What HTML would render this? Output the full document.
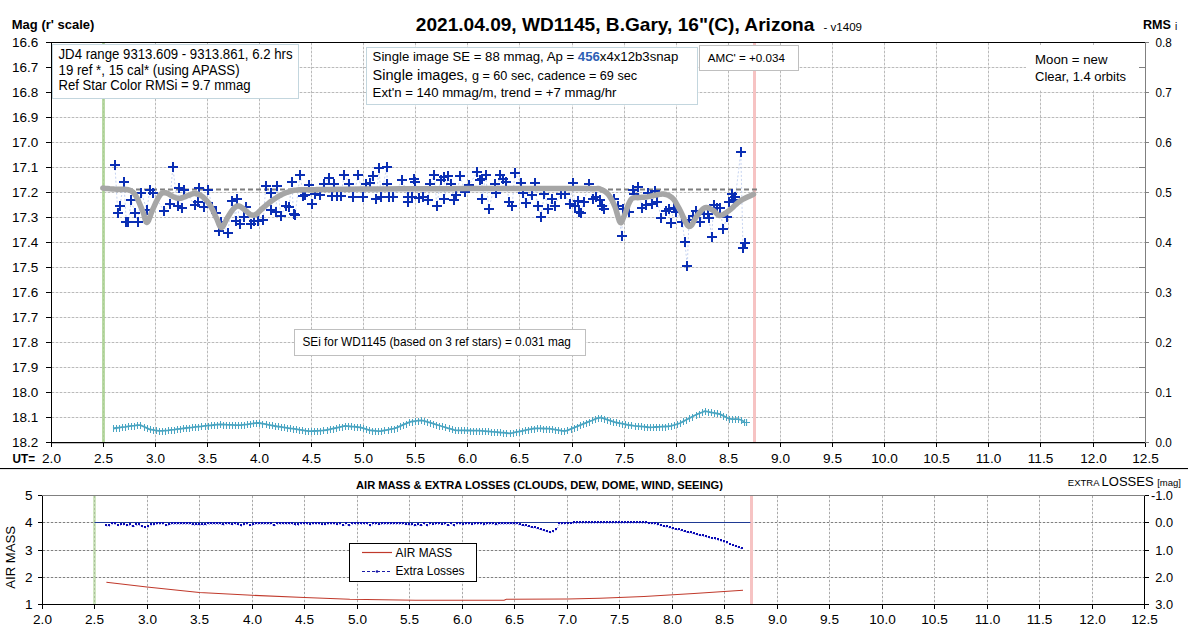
<!DOCTYPE html><html><head><meta charset="utf-8"><style>html,body{margin:0;padding:0;background:#fff;overflow:hidden}svg{display:block}text{font-family:"Liberation Sans",sans-serif}</style></head><body>
<svg width="1188" height="633" viewBox="0 0 1188 633" shape-rendering="auto">
<rect x="0" y="0" width="1188" height="633" fill="#fff"/>
<path d="M103.5,43V442M155.5,43V442M207.5,43V442M259.5,43V442M311.5,43V442M363.5,43V442M415.5,43V442M467.5,43V442M519.5,43V442M572.5,43V442M624.5,43V442M676.5,43V442M728.5,43V442M780.5,43V442M832.5,43V442M884.5,43V442M936.5,43V442M988.5,43V442M1040.5,43V442M1093.5,43V442M52,67.5H1145M52,92.5H1145M52,117.5H1145M52,142.5H1145M52,167.5H1145M52,192.5H1145M52,217.5H1145M52,242.5H1145M52,267.5H1145M52,292.5H1145M52,317.5H1145M52,342.5H1145M52,367.5H1145M52,392.5H1145M52,417.5H1145" stroke="#e8e8e8" stroke-width="1" fill="none"/>
<path d="M103.5,43V442M155.5,43V442M207.5,43V442M259.5,43V442M311.5,43V442M363.5,43V442M415.5,43V442M467.5,43V442M519.5,43V442M572.5,43V442M624.5,43V442M676.5,43V442M728.5,43V442M780.5,43V442M832.5,43V442M884.5,43V442M936.5,43V442M988.5,43V442M1040.5,43V442M1093.5,43V442M52,67.5H1145M52,92.5H1145M52,117.5H1145M52,142.5H1145M52,167.5H1145M52,192.5H1145M52,217.5H1145M52,242.5H1145M52,267.5H1145M52,292.5H1145M52,317.5H1145M52,342.5H1145M52,367.5H1145M52,392.5H1145M52,417.5H1145" stroke="#bababa" stroke-width="1" stroke-dasharray="2,2" fill="none"/>
<rect x="102" y="42" width="3" height="400" fill="#a9d18e" fill-opacity="0.8"/>
<rect x="753" y="42" width="3" height="400" fill="#f6c3c3"/>
<path d="M114.9,164.7L117.8,212.6L119.9,205.5L123.9,182.0L126.3,221.8L128.4,221.8L131.3,200.5L134.9,212.6L137.7,221.8L141.3,192.7L146.9,209.7L149.8,189.8L153.3,193.4L164.0,211.0L169.7,204.0L172.8,166.8L177.5,205.5L179.0,187.7L181.8,207.6L183.9,189.8L194.6,204.8L198.2,202.4L198.8,188.4L204.5,207.4L208.3,190.3L212.0,206.8L215.9,213.1L219.0,230.8L220.9,222.0L227.9,232.7L231.7,201.1L235.5,220.7L236.7,198.6L239.9,223.8L243.7,216.9L245.6,206.8L250.6,224.5L254.4,221.3L258.2,220.7L263.3,220.0L265.8,185.9L270.9,192.9L270.9,210.0L275.9,211.8L277.2,185.9L281.0,215.6L286.0,205.5L289.2,206.8L291.7,181.5L293.6,214.4L295.1,215.1L300.1,174.7L303.3,196.1L305.2,194.9L309.0,184.8L312.1,203.7L315.3,194.2L320.3,194.9L324.1,183.5L328.6,178.4L331.7,196.1L333.6,183.5L337.4,196.1L340.6,195.5L344.4,174.7L349.4,183.5L353.2,196.8L358.3,175.3L363.3,196.8L365.9,183.5L369.6,182.9L372.8,175.9L376.0,199.3L379.1,168.3L381.0,197.4L386.7,167.1L387.3,184.1L388.6,197.4L393.2,197.4L402.1,179.7L407.8,196.8L407.8,201.8L411.5,196.8L414.1,179.1L415.3,182.2L419.1,198.0L422.9,196.8L428.0,199.9L430.5,183.5L434.3,174.7L436.8,205.6L440.6,180.3L444.4,177.2L444.4,198.7L448.2,175.9L450.7,183.5L453.9,199.9L456.4,194.9L460.2,176.5L465.3,192.4L469.1,184.8L477.3,172.1L479.8,179.7L481.9,179.1L482.3,198.7L485.7,174.7L488.8,208.8L495.2,183.5L496.4,193.0L500.2,175.3L503.4,179.1L506.5,181.6L509.1,202.5L512.2,205.6L514.8,173.4L521.1,182.9L523.0,193.0L526.1,203.1L531.8,194.9L535.0,182.9L537.5,205.6L540.7,217.0L544.5,193.6L548.3,208.8L552.1,199.3L554.6,205.6L560.9,193.6L564.7,194.2L569.8,203.7L572.9,182.9L574.8,205.6L578.0,200.6L578.6,211.9L580.7,212.6L583.8,202.5L588.9,183.5L592.7,199.3L596.5,197.4L599.7,199.9L601.5,205.6L604.1,209.4L614.2,198.7L618.0,205.6L621.6,235.5L623.0,209.4L628.7,212.0L633.2,190.5L634.4,193.6L638.2,187.3L642.0,207.5L645.8,205.0L648.3,193.0L652.1,204.4L654.6,191.1L657.2,201.8L661.4,217.8L666.0,210.7L668.6,209.4L671.0,222.8L673.8,208.4L676.2,212.2L682.3,221.7L684.8,241.8L687.3,266.4L689.0,219.8L692.7,216.0L696.5,211.3L700.3,221.7L704.1,214.1L707.9,214.1L708.9,217.9L711.7,236.9L713.6,204.6L717.4,207.5L720.2,208.4L723.1,229.3L726.9,217.0L728.8,201.8L732.1,194.2L733.5,199.9L735.4,197.1L740.8,152.2L743.0,248.4L745.2,242.9" stroke="#b8c8ec" stroke-width="0.8" stroke-dasharray="2,2" fill="none"/>
<path d="M113.0,428.5L116.0,428.0L119.1,427.6L122.1,427.2L125.2,426.8L128.2,426.3L131.3,425.9L134.4,425.6L137.4,425.2L140.5,425.1L143.5,426.5L146.6,427.9L149.6,429.3L152.7,429.9L155.7,430.4L158.8,430.9L161.8,430.9L164.9,430.6L167.9,430.3L171.0,429.9L174.0,429.6L177.1,429.2L180.1,428.8L183.2,428.4L186.2,428.0L189.3,427.6L192.3,427.3L195.4,426.9L198.4,426.6L201.5,426.3L204.5,425.9L207.6,425.6L210.6,425.3L213.7,425.0L216.7,424.7L219.8,424.4L222.8,424.5L225.9,424.7L228.9,424.8L232.0,424.9L235.0,425.1L238.1,425.2L241.1,425.1L244.2,424.7L247.2,424.3L250.3,423.8L253.3,423.4L256.4,422.9L259.4,423.0L262.5,423.6L265.5,424.2L268.6,424.8L271.6,425.4L274.7,426.0L277.7,426.5L280.8,426.9L283.8,427.4L286.9,427.8L289.9,428.3L293.0,428.7L296.0,429.2L299.1,429.7L302.1,430.1L305.2,430.6L308.2,431.0L311.3,431.2L314.3,431.0L317.4,430.8L320.4,430.6L323.5,430.4L326.5,430.0L329.6,429.3L332.6,428.6L335.7,428.0L338.7,427.3L341.8,426.6L344.8,425.9L347.9,426.2L350.9,426.5L354.0,426.7L357.0,427.0L360.1,427.3L363.1,428.2L366.2,429.1L369.2,430.1L372.3,430.5L375.3,430.8L378.4,431.1L381.4,431.0L384.5,430.4L387.5,429.8L390.6,429.2L393.6,428.6L396.7,427.6L399.7,426.3L402.8,424.9L405.8,423.6L408.9,422.3L411.9,421.5L415.0,421.1L418.0,420.7L421.1,420.3L424.1,420.8L427.2,421.8L430.2,422.7L433.3,423.7L436.3,424.6L439.4,425.5L442.4,426.5L445.5,427.4L448.5,428.3L451.6,429.2L454.6,430.2L457.7,430.3L460.7,430.4L463.8,430.4L466.8,430.5L469.9,430.5L472.9,430.6L476.0,430.6L479.0,430.7L482.1,430.9L485.1,431.1L488.2,431.4L491.2,431.7L494.3,431.9L497.3,432.2L500.4,432.5L503.4,432.7L506.5,433.0L509.5,433.3L512.6,432.8L515.6,432.2L518.7,431.6L521.7,431.0L524.8,430.3L527.8,429.7L530.9,429.1L533.9,428.5L537.0,428.4L540.0,428.4L543.1,428.5L546.1,428.6L549.2,428.7L552.2,429.1L555.3,429.6L558.3,430.1L561.4,430.7L564.4,431.2L567.5,430.3L570.5,429.1L573.6,427.9L576.6,426.6L579.7,425.4L582.7,424.2L585.8,422.9L588.8,421.7L591.9,420.5L594.9,419.2L598.0,418.0L601.0,417.5L604.1,418.6L607.1,419.6L610.1,420.6L613.2,421.6L616.2,422.5L619.3,423.1L622.3,423.7L625.4,424.3L628.4,425.0L631.5,425.4L634.5,425.8L637.6,426.1L640.6,426.4L643.7,426.7L646.7,427.0L649.8,427.3L652.8,427.2L655.9,427.0L658.9,426.9L662.0,426.7L665.0,426.5L668.1,426.4L671.1,425.9L674.2,425.0L677.2,424.1L680.3,423.0L683.3,421.4L686.4,419.8L689.4,418.2L692.5,416.5L695.5,415.0L698.6,413.7L701.6,412.5L704.7,411.2L707.7,411.6L710.8,412.3L713.8,412.9L716.9,413.5L719.9,414.1L723.0,415.6L726.0,417.2L729.1,418.7L732.1,419.2L735.2,419.2L738.2,419.2L741.3,420.0L744.3,421.8" stroke="#4aa5c2" stroke-width="1.8" fill="none"/>
<path d="M113.5,425.0v7M116.5,425.0v7M119.5,425.0v7M122.5,424.0v7M125.5,424.0v7M128.5,423.0v7M131.5,423.0v7M134.5,423.0v7M137.5,422.0v7M140.5,422.0v7M144.5,424.0v7M147.5,425.0v7M150.5,426.0v7M153.5,427.0v7M156.5,427.0v7M159.5,428.0v7M162.5,428.0v7M165.5,428.0v7M168.5,427.0v7M171.5,427.0v7M174.5,427.0v7M177.5,426.0v7M180.5,426.0v7M183.5,425.0v7M186.5,425.0v7M189.5,425.0v7M192.5,424.0v7M195.5,424.0v7M198.5,424.0v7M201.5,423.0v7M205.5,423.0v7M208.5,423.0v7M211.5,422.0v7M214.5,422.0v7M217.5,422.0v7M220.5,421.0v7M223.5,422.0v7M226.5,422.0v7M229.5,422.0v7M232.5,422.0v7M235.5,422.0v7M238.5,422.0v7M241.5,422.0v7M244.5,422.0v7M247.5,421.0v7M250.5,421.0v7M253.5,420.0v7M256.5,420.0v7M259.5,420.0v7M262.5,421.0v7M266.5,421.0v7M269.5,422.0v7M272.5,422.0v7M275.5,423.0v7M278.5,423.0v7M281.5,424.0v7M284.5,424.0v7M287.5,425.0v7M290.5,425.0v7M293.5,426.0v7M296.5,426.0v7M299.5,427.0v7M302.5,427.0v7M305.5,428.0v7M308.5,428.0v7M311.5,428.0v7M314.5,428.0v7M317.5,428.0v7M320.5,428.0v7M323.5,427.0v7M327.5,427.0v7M330.5,426.0v7M333.5,426.0v7M336.5,425.0v7M339.5,424.0v7M342.5,424.0v7M345.5,423.0v7M348.5,423.0v7M351.5,423.0v7M354.5,424.0v7M357.5,424.0v7M360.5,424.0v7M363.5,425.0v7M366.5,426.0v7M369.5,427.0v7M372.5,428.0v7M375.5,428.0v7M378.5,428.0v7M381.5,428.0v7M384.5,427.0v7M388.5,427.0v7M391.5,426.0v7M394.5,426.0v7M397.5,425.0v7M400.5,423.0v7M403.5,422.0v7M406.5,421.0v7M409.5,419.0v7M412.5,419.0v7M415.5,418.0v7M418.5,418.0v7M421.5,417.0v7M424.5,418.0v7M427.5,419.0v7M430.5,420.0v7M433.5,421.0v7M436.5,422.0v7M439.5,423.0v7M442.5,423.0v7M445.5,424.0v7M449.5,425.0v7M452.5,426.0v7M455.5,427.0v7M458.5,427.0v7M461.5,427.0v7M464.5,427.0v7M467.5,427.0v7M470.5,428.0v7M473.5,428.0v7M476.5,428.0v7M479.5,428.0v7M482.5,428.0v7M485.5,428.0v7M488.5,428.0v7M491.5,429.0v7M494.5,429.0v7M497.5,429.0v7M500.5,429.0v7M503.5,430.0v7M506.5,430.0v7M510.5,430.0v7M513.5,430.0v7M516.5,429.0v7M519.5,429.0v7M522.5,428.0v7M525.5,427.0v7M528.5,427.0v7M531.5,426.0v7M534.5,426.0v7M537.5,425.0v7M540.5,425.0v7M543.5,426.0v7M546.5,426.0v7M549.5,426.0v7M552.5,426.0v7M555.5,427.0v7M558.5,427.0v7M561.5,428.0v7M564.5,428.0v7M567.5,427.0v7M571.5,426.0v7M574.5,425.0v7M577.5,424.0v7M580.5,422.0v7M583.5,421.0v7M586.5,420.0v7M589.5,419.0v7M592.5,417.0v7M595.5,416.0v7M598.5,415.0v7M601.5,415.0v7M604.5,416.0v7M607.5,417.0v7M610.5,418.0v7M613.5,419.0v7M616.5,419.0v7M619.5,420.0v7M622.5,421.0v7M625.5,421.0v7M628.5,422.0v7M631.5,422.0v7M635.5,423.0v7M638.5,423.0v7M641.5,423.0v7M644.5,424.0v7M647.5,424.0v7M650.5,424.0v7M653.5,424.0v7M656.5,424.0v7M659.5,424.0v7M662.5,424.0v7M665.5,424.0v7M668.5,423.0v7M671.5,423.0v7M674.5,422.0v7M677.5,421.0v7M680.5,420.0v7M683.5,418.0v7M686.5,417.0v7M689.5,415.0v7M692.5,414.0v7M696.5,412.0v7M699.5,411.0v7M702.5,409.0v7M705.5,408.0v7M708.5,409.0v7M711.5,409.0v7M714.5,410.0v7M717.5,410.0v7M720.5,411.0v7M723.5,413.0v7M726.5,414.0v7M729.5,416.0v7M732.5,416.0v7M735.5,416.0v7M738.5,416.0v7M741.5,417.0v7M744.5,419.0v7" stroke="#4aa5c2" stroke-width="1" fill="none"/>
<path d="M742,422.5H750M746.5,419V426" stroke="#4aa5c2" stroke-width="1.2" fill="none"/>
<path d="M104,189.5H757" stroke="#7f7f7f" stroke-width="2" stroke-dasharray="5,3" fill="none"/>
<path d="M110,164h10v2h-10zM114,160h2v10h-2zM113,212h10v2h-10zM117,208h2v10h-2zM115,205h10v2h-10zM119,201h2v10h-2zM119,181h10v2h-10zM123,177h2v10h-2zM121,221h10v2h-10zM125,217h2v10h-2zM123,221h10v2h-10zM127,217h2v10h-2zM126,199h10v2h-10zM130,195h2v10h-2zM130,212h10v2h-10zM134,208h2v10h-2zM133,221h10v2h-10zM137,217h2v10h-2zM136,192h10v2h-10zM140,188h2v10h-2zM142,209h10v2h-10zM146,205h2v10h-2zM145,189h10v2h-10zM149,185h2v10h-2zM148,192h10v2h-10zM152,188h2v10h-2zM159,210h10v2h-10zM163,206h2v10h-2zM165,203h10v2h-10zM169,199h2v10h-2zM168,166h10v2h-10zM172,162h2v10h-2zM173,205h10v2h-10zM177,201h2v10h-2zM174,187h10v2h-10zM178,183h2v10h-2zM177,207h10v2h-10zM181,203h2v10h-2zM179,189h10v2h-10zM183,185h2v10h-2zM190,204h10v2h-10zM194,200h2v10h-2zM193,201h10v2h-10zM197,197h2v10h-2zM194,187h10v2h-10zM198,183h2v10h-2zM199,206h10v2h-10zM203,202h2v10h-2zM203,189h10v2h-10zM207,185h2v10h-2zM207,206h10v2h-10zM211,202h2v10h-2zM211,212h10v2h-10zM215,208h2v10h-2zM214,230h10v2h-10zM218,226h2v10h-2zM216,221h10v2h-10zM220,217h2v10h-2zM223,232h10v2h-10zM227,228h2v10h-2zM227,200h10v2h-10zM231,196h2v10h-2zM231,220h10v2h-10zM235,216h2v10h-2zM232,198h10v2h-10zM236,194h2v10h-2zM235,223h10v2h-10zM239,219h2v10h-2zM239,216h10v2h-10zM243,212h2v10h-2zM241,206h10v2h-10zM245,202h2v10h-2zM246,223h10v2h-10zM250,219h2v10h-2zM249,220h10v2h-10zM253,216h2v10h-2zM253,220h10v2h-10zM257,216h2v10h-2zM258,219h10v2h-10zM262,215h2v10h-2zM261,185h10v2h-10zM265,181h2v10h-2zM266,192h10v2h-10zM270,188h2v10h-2zM266,209h10v2h-10zM270,205h2v10h-2zM271,211h10v2h-10zM275,207h2v10h-2zM272,185h10v2h-10zM276,181h2v10h-2zM276,215h10v2h-10zM280,211h2v10h-2zM281,205h10v2h-10zM285,201h2v10h-2zM284,206h10v2h-10zM288,202h2v10h-2zM287,181h10v2h-10zM291,177h2v10h-2zM289,213h10v2h-10zM293,209h2v10h-2zM290,214h10v2h-10zM294,210h2v10h-2zM295,174h10v2h-10zM299,170h2v10h-2zM298,195h10v2h-10zM302,191h2v10h-2zM300,194h10v2h-10zM304,190h2v10h-2zM304,184h10v2h-10zM308,180h2v10h-2zM307,203h10v2h-10zM311,199h2v10h-2zM310,193h10v2h-10zM314,189h2v10h-2zM315,194h10v2h-10zM319,190h2v10h-2zM319,183h10v2h-10zM323,179h2v10h-2zM324,177h10v2h-10zM328,173h2v10h-2zM327,195h10v2h-10zM331,191h2v10h-2zM329,183h10v2h-10zM333,179h2v10h-2zM332,195h10v2h-10zM336,191h2v10h-2zM336,195h10v2h-10zM340,191h2v10h-2zM339,174h10v2h-10zM343,170h2v10h-2zM344,183h10v2h-10zM348,179h2v10h-2zM348,196h10v2h-10zM352,192h2v10h-2zM353,174h10v2h-10zM357,170h2v10h-2zM358,196h10v2h-10zM362,192h2v10h-2zM361,183h10v2h-10zM365,179h2v10h-2zM365,182h10v2h-10zM369,178h2v10h-2zM368,175h10v2h-10zM372,171h2v10h-2zM371,198h10v2h-10zM375,194h2v10h-2zM374,167h10v2h-10zM378,163h2v10h-2zM376,196h10v2h-10zM380,192h2v10h-2zM382,166h10v2h-10zM386,162h2v10h-2zM382,183h10v2h-10zM386,179h2v10h-2zM384,196h10v2h-10zM388,192h2v10h-2zM388,196h10v2h-10zM392,192h2v10h-2zM397,179h10v2h-10zM401,175h2v10h-2zM403,196h10v2h-10zM407,192h2v10h-2zM403,201h10v2h-10zM407,197h2v10h-2zM407,196h10v2h-10zM411,192h2v10h-2zM409,178h10v2h-10zM413,174h2v10h-2zM410,181h10v2h-10zM414,177h2v10h-2zM414,197h10v2h-10zM418,193h2v10h-2zM418,196h10v2h-10zM422,192h2v10h-2zM423,199h10v2h-10zM427,195h2v10h-2zM425,183h10v2h-10zM429,179h2v10h-2zM429,174h10v2h-10zM433,170h2v10h-2zM432,205h10v2h-10zM436,201h2v10h-2zM436,179h10v2h-10zM440,175h2v10h-2zM439,176h10v2h-10zM443,172h2v10h-2zM439,198h10v2h-10zM443,194h2v10h-2zM443,175h10v2h-10zM447,171h2v10h-2zM446,183h10v2h-10zM450,179h2v10h-2zM449,199h10v2h-10zM453,195h2v10h-2zM451,194h10v2h-10zM455,190h2v10h-2zM455,175h10v2h-10zM459,171h2v10h-2zM460,191h10v2h-10zM464,187h2v10h-2zM464,184h10v2h-10zM468,180h2v10h-2zM472,171h10v2h-10zM476,167h2v10h-2zM475,179h10v2h-10zM479,175h2v10h-2zM477,178h10v2h-10zM481,174h2v10h-2zM477,198h10v2h-10zM481,194h2v10h-2zM481,174h10v2h-10zM485,170h2v10h-2zM484,208h10v2h-10zM488,204h2v10h-2zM490,183h10v2h-10zM494,179h2v10h-2zM491,192h10v2h-10zM495,188h2v10h-2zM495,174h10v2h-10zM499,170h2v10h-2zM498,178h10v2h-10zM502,174h2v10h-2zM501,181h10v2h-10zM505,177h2v10h-2zM504,201h10v2h-10zM508,197h2v10h-2zM507,205h10v2h-10zM511,201h2v10h-2zM510,172h10v2h-10zM514,168h2v10h-2zM516,182h10v2h-10zM520,178h2v10h-2zM518,192h10v2h-10zM522,188h2v10h-2zM521,202h10v2h-10zM525,198h2v10h-2zM527,194h10v2h-10zM531,190h2v10h-2zM530,182h10v2h-10zM534,178h2v10h-2zM533,205h10v2h-10zM537,201h2v10h-2zM536,216h10v2h-10zM540,212h2v10h-2zM539,193h10v2h-10zM543,189h2v10h-2zM543,208h10v2h-10zM547,204h2v10h-2zM547,198h10v2h-10zM551,194h2v10h-2zM550,205h10v2h-10zM554,201h2v10h-2zM556,193h10v2h-10zM560,189h2v10h-2zM560,193h10v2h-10zM564,189h2v10h-2zM565,203h10v2h-10zM569,199h2v10h-2zM568,182h10v2h-10zM572,178h2v10h-2zM570,205h10v2h-10zM574,201h2v10h-2zM573,200h10v2h-10zM577,196h2v10h-2zM574,211h10v2h-10zM578,207h2v10h-2zM576,212h10v2h-10zM580,208h2v10h-2zM579,201h10v2h-10zM583,197h2v10h-2zM584,183h10v2h-10zM588,179h2v10h-2zM588,198h10v2h-10zM592,194h2v10h-2zM591,196h10v2h-10zM595,192h2v10h-2zM595,199h10v2h-10zM599,195h2v10h-2zM597,205h10v2h-10zM601,201h2v10h-2zM599,208h10v2h-10zM603,204h2v10h-2zM609,198h10v2h-10zM613,194h2v10h-2zM613,205h10v2h-10zM617,201h2v10h-2zM617,235h10v2h-10zM621,231h2v10h-2zM618,208h10v2h-10zM622,204h2v10h-2zM624,211h10v2h-10zM628,207h2v10h-2zM628,189h10v2h-10zM632,185h2v10h-2zM629,193h10v2h-10zM633,189h2v10h-2zM633,186h10v2h-10zM637,182h2v10h-2zM637,207h10v2h-10zM641,203h2v10h-2zM641,204h10v2h-10zM645,200h2v10h-2zM643,192h10v2h-10zM647,188h2v10h-2zM647,203h10v2h-10zM651,199h2v10h-2zM650,190h10v2h-10zM654,186h2v10h-2zM652,201h10v2h-10zM656,197h2v10h-2zM656,217h10v2h-10zM660,213h2v10h-2zM661,210h10v2h-10zM665,206h2v10h-2zM664,208h10v2h-10zM668,204h2v10h-2zM666,222h10v2h-10zM670,218h2v10h-2zM669,207h10v2h-10zM673,203h2v10h-2zM671,211h10v2h-10zM675,207h2v10h-2zM677,221h10v2h-10zM681,217h2v10h-2zM680,241h10v2h-10zM684,237h2v10h-2zM682,265h10v2h-10zM686,261h2v10h-2zM684,219h10v2h-10zM688,215h2v10h-2zM688,215h10v2h-10zM692,211h2v10h-2zM691,210h10v2h-10zM695,206h2v10h-2zM695,221h10v2h-10zM699,217h2v10h-2zM699,213h10v2h-10zM703,209h2v10h-2zM703,213h10v2h-10zM707,209h2v10h-2zM704,217h10v2h-10zM708,213h2v10h-2zM707,236h10v2h-10zM711,232h2v10h-2zM709,204h10v2h-10zM713,200h2v10h-2zM712,207h10v2h-10zM716,203h2v10h-2zM715,207h10v2h-10zM719,203h2v10h-2zM718,228h10v2h-10zM722,224h2v10h-2zM722,216h10v2h-10zM726,212h2v10h-2zM724,201h10v2h-10zM728,197h2v10h-2zM727,193h10v2h-10zM731,189h2v10h-2zM729,199h10v2h-10zM733,195h2v10h-2zM730,196h10v2h-10zM734,192h2v10h-2zM736,151h10v2h-10zM740,147h2v10h-2zM738,247h10v2h-10zM742,243h2v10h-2zM740,242h10v2h-10zM744,238h2v10h-2z" fill="#0a2eb4" shape-rendering="crispEdges"/>
<path d="M102.8,188.1L104.0,188.2L105.6,188.4L107.6,188.6L109.8,188.8L112.0,188.9L114.2,189.1L116.5,189.2L119.0,189.2L121.6,189.2L124.2,189.2L126.5,189.4L128.5,189.8L130.1,190.3L131.4,191.0L132.5,191.7L133.5,192.7L134.5,193.9L135.6,195.5L136.8,197.6L138.1,200.2L139.3,203.0L140.5,205.9L141.7,208.7L142.7,211.2L143.6,213.6L144.3,216.2L144.9,218.6L145.6,220.7L146.2,222.1L147.0,222.5L147.8,221.8L148.7,220.1L149.6,217.7L150.6,215.0L151.6,212.2L152.6,209.7L153.7,207.3L154.9,204.6L156.1,202.0L157.4,199.4L158.6,197.2L159.7,195.5L160.7,194.3L161.6,193.5L162.5,192.9L163.3,192.7L164.3,192.6L165.4,192.7L166.7,193.0L168.2,193.7L169.7,194.6L171.2,195.5L172.7,196.4L174.0,197.0L175.1,197.5L176.0,197.8L176.9,198.2L177.7,198.4L178.6,198.4L179.7,198.4L181.0,198.2L182.4,197.7L183.9,197.2L185.4,196.6L186.8,196.0L188.2,195.5L189.4,195.1L190.6,194.6L191.7,194.1L192.7,193.7L193.8,193.5L195.0,193.5L196.2,193.7L197.5,194.0L198.8,194.4L200.0,195.0L201.3,195.8L202.6,196.7L203.9,197.8L205.2,199.1L206.5,200.5L207.8,202.1L209.0,203.7L210.2,205.5L211.3,207.4L212.4,209.6L213.5,211.8L214.5,214.1L215.5,216.2L216.5,218.2L217.4,220.2L218.2,222.3L219.0,224.4L219.8,226.1L220.6,227.2L221.5,227.6L222.5,227.0L223.5,225.5L224.6,223.4L225.7,221.1L226.8,218.8L227.9,216.9L229.0,215.2L230.1,213.5L231.1,211.9L232.2,210.4L233.2,209.1L234.2,208.0L235.1,207.2L235.9,206.6L236.7,206.2L237.5,206.0L238.3,206.0L239.2,206.1L240.2,206.5L241.3,207.1L242.4,208.0L243.5,208.9L244.6,209.8L245.6,210.6L246.6,211.4L247.5,212.2L248.4,213.0L249.3,213.8L250.1,214.4L251.0,214.8L251.8,215.0L252.6,215.2L253.4,215.2L254.3,215.0L255.1,214.7L256.0,214.3L257.0,213.7L258.0,212.8L259.0,211.8L260.1,210.7L261.2,209.6L262.3,208.6L263.4,207.6L264.5,206.7L265.6,205.7L266.8,204.7L267.9,203.8L269.0,202.9L270.1,202.0L271.2,201.2L272.3,200.4L273.4,199.7L274.5,198.9L275.6,198.2L276.7,197.5L277.8,196.8L278.8,196.2L279.9,195.6L281.0,195.0L282.2,194.4L283.4,193.8L284.7,193.3L285.9,192.8L287.2,192.3L288.5,191.9L289.8,191.5L291.0,191.1L292.1,190.8L293.2,190.5L294.4,190.3L295.8,190.1L297.4,189.9L299.2,189.8L301.2,189.8L303.3,189.8L305.6,189.8L308.1,189.8L310.7,189.8L313.0,189.8L314.8,189.7L316.8,189.6L319.6,189.6L323.8,189.5L330.0,189.4L338.4,189.3L348.5,189.2L360.0,189.1L372.6,189.0L386.0,188.9L400.0,188.8L415.2,188.7L432.0,188.7L449.7,188.7L467.4,188.6L484.4,188.6L500.0,188.6L514.6,188.6L528.9,188.5L542.6,188.5L555.1,188.5L566.0,188.5L575.0,188.5L581.6,188.5L586.0,188.5L588.8,188.6L590.7,188.6L592.2,188.7L594.0,188.7L595.7,188.7L596.9,188.6L597.7,188.5L598.3,188.5L599.0,188.7L600.0,189.0L601.2,189.5L602.6,190.1L604.0,190.9L605.4,191.8L606.8,192.9L608.1,194.2L609.3,195.8L610.5,197.6L611.6,199.6L612.7,201.8L613.8,204.1L614.8,206.4L615.8,209.1L616.7,212.3L617.7,215.6L618.6,218.7L619.4,221.1L620.2,222.5L620.9,222.8L621.5,222.3L622.1,221.2L622.7,219.6L623.4,217.7L624.2,215.8L625.2,213.5L626.2,210.5L627.4,207.4L628.5,204.2L629.8,201.5L631.0,199.5L632.3,198.3L633.6,197.8L634.9,197.6L636.3,197.6L637.6,197.7L639.0,197.6L640.3,197.4L641.6,197.3L643.0,197.3L644.3,197.2L645.7,197.1L647.1,196.9L648.6,196.6L650.2,196.3L651.9,195.9L653.5,195.5L655.1,195.2L656.6,194.9L658.0,194.7L659.4,194.4L660.7,194.2L662.0,194.0L663.3,194.0L664.6,194.2L666.0,194.5L667.3,195.0L668.7,195.5L670.1,196.3L671.4,197.2L672.7,198.3L673.9,199.6L675.0,201.2L676.0,202.9L677.1,204.8L678.2,206.8L679.5,209.1L680.9,212.0L682.5,215.5L684.1,219.2L685.8,222.6L687.4,225.2L688.9,226.6L690.3,226.4L691.7,225.0L693.0,222.8L694.4,220.2L695.7,217.8L697.0,215.8L698.3,214.2L699.7,212.5L701.0,210.9L702.3,209.5L703.7,208.4L705.0,207.7L706.4,207.5L707.7,207.7L709.1,208.2L710.5,208.9L711.8,209.7L713.1,210.4L714.3,211.2L715.4,212.3L716.4,213.4L717.5,214.5L718.6,215.2L719.9,215.5L721.3,215.3L722.8,214.7L724.3,213.9L726.0,212.8L727.6,211.6L729.3,210.4L731.0,209.1L732.7,207.5L734.4,205.8L736.3,204.1L738.1,202.5L740.1,201.0L742.3,199.6L744.9,198.3L747.5,197.0L749.9,195.9L752.0,194.9L753.5,194.2" stroke="#a6a6a6" stroke-width="5.5" stroke-linecap="round" stroke-linejoin="round" fill="none"/>
<rect x="52.5" y="44.5" width="246" height="54" fill="#fff" stroke="#c3d6de" stroke-width="1"/>
<text x="58.50" y="59.20" font-size="13.8" text-anchor="start" fill="#000" textLength="234.00" lengthAdjust="spacingAndGlyphs" >JD4 range 9313.609 - 9313.861, 6.2 hrs</text>
<text x="58.50" y="74.60" font-size="13.8" text-anchor="start" fill="#000" textLength="181.10" lengthAdjust="spacingAndGlyphs" >19 ref *, 15 cal* (using APASS)</text>
<text x="58.50" y="90.00" font-size="13.8" text-anchor="start" fill="#000" textLength="192.10" lengthAdjust="spacingAndGlyphs" >Ref Star Color RMSi = 9.7 mmag</text>
<rect x="366.5" y="47.5" width="331" height="57" fill="#fff" stroke="#c3d6de" stroke-width="1"/>
<text x="372.6" y="60.7" font-size="13.7" fill="#000" textLength="305.7" lengthAdjust="spacingAndGlyphs">Single image SE = 88 mmag, Ap = <tspan font-weight="bold" fill="#2e5fb5">456</tspan>x4x12b3snap</text>
<text x="372.6" y="79.6" fill="#000" textLength="264.5" lengthAdjust="spacingAndGlyphs"><tspan font-size="15.5">Single images, </tspan><tspan font-size="13.5">g = 60 sec, cadence = 69 sec</tspan></text>
<text x="372.60" y="96.50" font-size="13.4" text-anchor="start" fill="#000" textLength="243.80" lengthAdjust="spacingAndGlyphs" >Ext'n = 140 mmag/m, trend = +7 mmag/hr</text>
<rect x="699.5" y="45.5" width="99" height="25" fill="#fff" stroke="#bfbfbf" stroke-width="1"/>
<text x="707.70" y="61.70" font-size="11.2" text-anchor="start" fill="#000" textLength="77.30" lengthAdjust="spacingAndGlyphs" >AMC' = +0.034</text>
<rect x="1026" y="45" width="113" height="45" fill="#fff"/>
<text x="1035.10" y="63.70" font-size="13.3" text-anchor="start" fill="#000" textLength="72.40" lengthAdjust="spacingAndGlyphs" >Moon = new</text>
<text x="1035.10" y="80.70" font-size="13.3" text-anchor="start" fill="#000" textLength="91.00" lengthAdjust="spacingAndGlyphs" >Clear, 1.4 orbits</text>
<rect x="294.5" y="329.5" width="291" height="26" fill="#fff" stroke="#bfbfbf" stroke-width="1"/>
<text x="302.40" y="345.60" font-size="12.2" text-anchor="start" fill="#000" textLength="268.50" lengthAdjust="spacingAndGlyphs" >SEi for WD1145 (based on 3 ref stars) = 0.031 mag</text>
<path d="M51,42.5H1146M51.5,42V443M46,42.5H51M46,67.5H51M46,92.5H51M46,117.5H51M46,142.5H51M46,167.5H51M46,192.5H51M46,217.5H51M46,242.5H51M46,267.5H51M46,292.5H51M46,317.5H51M46,342.5H51M46,367.5H51M46,392.5H51M46,417.5H51M46,442.5H51M51.5,442V447M103.5,442V447M155.5,442V447M207.5,442V447M259.5,442V447M311.5,442V447M363.5,442V447M415.5,442V447M467.5,442V447M519.5,442V447M572.5,442V447M624.5,442V447M676.5,442V447M728.5,442V447M780.5,442V447M832.5,442V447M884.5,442V447M936.5,442V447M988.5,442V447M1040.5,442V447M1093.5,442V447M1145.5,442V447" stroke="#000" stroke-width="1" fill="none"/>
<rect x="51" y="442" width="1095" height="1.25" fill="#000"/>
<path d="M1145.5,42V442M1145,42.5H1149M1139,67.5H1145M1145,92.5H1149M1139,117.5H1145M1145,142.5H1149M1139,167.5H1145M1145,192.5H1149M1139,217.5H1145M1145,242.5H1149M1139,267.5H1145M1145,292.5H1149M1139,317.5H1145M1145,342.5H1149M1139,367.5H1145M1145,392.5H1149M1139,417.5H1145M1145,442.5H1149" stroke="#808080" stroke-width="1" fill="none"/>
<text x="38.20" y="47.00" font-size="13.6" text-anchor="end" fill="#000" textLength="26.30" lengthAdjust="spacingAndGlyphs" >16.6</text>
<text x="38.20" y="72.00" font-size="13.6" text-anchor="end" fill="#000" textLength="26.30" lengthAdjust="spacingAndGlyphs" >16.7</text>
<text x="38.20" y="97.00" font-size="13.6" text-anchor="end" fill="#000" textLength="26.30" lengthAdjust="spacingAndGlyphs" >16.8</text>
<text x="38.20" y="122.00" font-size="13.6" text-anchor="end" fill="#000" textLength="26.30" lengthAdjust="spacingAndGlyphs" >16.9</text>
<text x="38.20" y="147.00" font-size="13.6" text-anchor="end" fill="#000" textLength="26.30" lengthAdjust="spacingAndGlyphs" >17.0</text>
<text x="38.20" y="172.00" font-size="13.6" text-anchor="end" fill="#000" textLength="26.30" lengthAdjust="spacingAndGlyphs" >17.1</text>
<text x="38.20" y="197.00" font-size="13.6" text-anchor="end" fill="#000" textLength="26.30" lengthAdjust="spacingAndGlyphs" >17.2</text>
<text x="38.20" y="222.00" font-size="13.6" text-anchor="end" fill="#000" textLength="26.30" lengthAdjust="spacingAndGlyphs" >17.3</text>
<text x="38.20" y="247.00" font-size="13.6" text-anchor="end" fill="#000" textLength="26.30" lengthAdjust="spacingAndGlyphs" >17.4</text>
<text x="38.20" y="272.00" font-size="13.6" text-anchor="end" fill="#000" textLength="26.30" lengthAdjust="spacingAndGlyphs" >17.5</text>
<text x="38.20" y="297.00" font-size="13.6" text-anchor="end" fill="#000" textLength="26.30" lengthAdjust="spacingAndGlyphs" >17.6</text>
<text x="38.20" y="322.00" font-size="13.6" text-anchor="end" fill="#000" textLength="26.30" lengthAdjust="spacingAndGlyphs" >17.7</text>
<text x="38.20" y="347.00" font-size="13.6" text-anchor="end" fill="#000" textLength="26.30" lengthAdjust="spacingAndGlyphs" >17.8</text>
<text x="38.20" y="372.00" font-size="13.6" text-anchor="end" fill="#000" textLength="26.30" lengthAdjust="spacingAndGlyphs" >17.9</text>
<text x="38.20" y="397.00" font-size="13.6" text-anchor="end" fill="#000" textLength="26.30" lengthAdjust="spacingAndGlyphs" >18.0</text>
<text x="38.20" y="422.00" font-size="13.6" text-anchor="end" fill="#000" textLength="26.30" lengthAdjust="spacingAndGlyphs" >18.1</text>
<text x="38.20" y="447.00" font-size="13.6" text-anchor="end" fill="#000" textLength="26.30" lengthAdjust="spacingAndGlyphs" >18.2</text>
<text x="1155.60" y="46.50" font-size="13" text-anchor="start" fill="#000" textLength="16.30" lengthAdjust="spacingAndGlyphs" >0.8</text>
<text x="1155.60" y="96.50" font-size="13" text-anchor="start" fill="#000" textLength="16.30" lengthAdjust="spacingAndGlyphs" >0.7</text>
<text x="1155.60" y="146.50" font-size="13" text-anchor="start" fill="#000" textLength="16.30" lengthAdjust="spacingAndGlyphs" >0.6</text>
<text x="1155.60" y="196.50" font-size="13" text-anchor="start" fill="#000" textLength="16.30" lengthAdjust="spacingAndGlyphs" >0.5</text>
<text x="1155.60" y="246.50" font-size="13" text-anchor="start" fill="#000" textLength="16.30" lengthAdjust="spacingAndGlyphs" >0.4</text>
<text x="1155.60" y="296.50" font-size="13" text-anchor="start" fill="#000" textLength="16.30" lengthAdjust="spacingAndGlyphs" >0.3</text>
<text x="1155.60" y="346.50" font-size="13" text-anchor="start" fill="#000" textLength="16.30" lengthAdjust="spacingAndGlyphs" >0.2</text>
<text x="1155.60" y="396.50" font-size="13" text-anchor="start" fill="#000" textLength="16.30" lengthAdjust="spacingAndGlyphs" >0.1</text>
<text x="1155.60" y="446.50" font-size="13" text-anchor="start" fill="#000" textLength="16.30" lengthAdjust="spacingAndGlyphs" >0.0</text>
<text x="51.50" y="463.00" font-size="13.6" text-anchor="middle" fill="#000" >2.0</text>
<text x="103.50" y="463.00" font-size="13.6" text-anchor="middle" fill="#000" >2.5</text>
<text x="155.50" y="463.00" font-size="13.6" text-anchor="middle" fill="#000" >3.0</text>
<text x="207.50" y="463.00" font-size="13.6" text-anchor="middle" fill="#000" >3.5</text>
<text x="259.50" y="463.00" font-size="13.6" text-anchor="middle" fill="#000" >4.0</text>
<text x="311.50" y="463.00" font-size="13.6" text-anchor="middle" fill="#000" >4.5</text>
<text x="363.50" y="463.00" font-size="13.6" text-anchor="middle" fill="#000" >5.0</text>
<text x="415.50" y="463.00" font-size="13.6" text-anchor="middle" fill="#000" >5.5</text>
<text x="467.50" y="463.00" font-size="13.6" text-anchor="middle" fill="#000" >6.0</text>
<text x="519.50" y="463.00" font-size="13.6" text-anchor="middle" fill="#000" >6.5</text>
<text x="572.50" y="463.00" font-size="13.6" text-anchor="middle" fill="#000" >7.0</text>
<text x="624.50" y="463.00" font-size="13.6" text-anchor="middle" fill="#000" >7.5</text>
<text x="676.50" y="463.00" font-size="13.6" text-anchor="middle" fill="#000" >8.0</text>
<text x="728.50" y="463.00" font-size="13.6" text-anchor="middle" fill="#000" >8.5</text>
<text x="780.50" y="463.00" font-size="13.6" text-anchor="middle" fill="#000" >9.0</text>
<text x="832.50" y="463.00" font-size="13.6" text-anchor="middle" fill="#000" >9.5</text>
<text x="884.50" y="463.00" font-size="13.6" text-anchor="middle" fill="#000" >10.0</text>
<text x="936.50" y="463.00" font-size="13.6" text-anchor="middle" fill="#000" >10.5</text>
<text x="988.50" y="463.00" font-size="13.6" text-anchor="middle" fill="#000" >11.0</text>
<text x="1040.50" y="463.00" font-size="13.6" text-anchor="middle" fill="#000" >11.5</text>
<text x="1093.50" y="463.00" font-size="13.6" text-anchor="middle" fill="#000" >12.0</text>
<text x="1145.50" y="463.00" font-size="13.6" text-anchor="middle" fill="#000" >12.5</text>
<text x="12.60" y="462.60" font-size="12" text-anchor="start" fill="#000" font-weight="bold" textLength="22.40" lengthAdjust="spacingAndGlyphs" >UT=</text>
<text x="11.80" y="28.90" font-size="13" text-anchor="start" fill="#000" font-weight="bold" textLength="82.50" lengthAdjust="spacingAndGlyphs" >Mag (r' scale)</text>
<text x="415.80" y="31.20" font-size="18.5" text-anchor="start" fill="#000" font-weight="bold" textLength="398.60" lengthAdjust="spacingAndGlyphs" >2021.04.09, WD1145, B.Gary, 16"(C), Arizona</text>
<text x="823.50" y="31.20" font-size="11.5" text-anchor="start" fill="#000" textLength="38.50" lengthAdjust="spacingAndGlyphs" >- v1409</text>
<text x="1143" y="29" font-size="12.5" font-weight="bold" textLength="28" lengthAdjust="spacingAndGlyphs">RMS</text>
<text x="1175.00" y="29.50" font-size="10" text-anchor="start" fill="#000" >i</text>
<rect x="0" y="468" width="1188" height="1.1" fill="#000"/>
<text x="356.00" y="488.50" font-size="11" text-anchor="start" fill="#000" font-weight="bold" textLength="367.00" lengthAdjust="spacingAndGlyphs" >AIR MASS &amp; EXTRA LOSSES (CLOUDS, DEW, DOME, WIND, SEEING)</text>
<text x="1067.8" y="486" fill="#000"><tspan font-size="9.5">EXTRA </tspan><tspan font-size="13">LOSSES </tspan><tspan font-size="9.5">[mag]</tspan></text>
<path d="M94.5,496V604M147.5,496V604M199.5,496V604M252.5,496V604M304.5,496V604M357.5,496V604M409.5,496V604M462.5,496V604M514.5,496V604M567.5,496V604M619.5,496V604M672.5,496V604M724.5,496V604M777.5,496V604M829.5,496V604M882.5,496V604M934.5,496V604M987.5,496V604M1039.5,496V604M1092.5,496V604" stroke="#eeeeee" stroke-width="1" fill="none"/>
<path d="M94.5,496V604M147.5,496V604M199.5,496V604M252.5,496V604M304.5,496V604M357.5,496V604M409.5,496V604M462.5,496V604M514.5,496V604M567.5,496V604M619.5,496V604M672.5,496V604M724.5,496V604M777.5,496V604M829.5,496V604M882.5,496V604M934.5,496V604M987.5,496V604M1039.5,496V604M1092.5,496V604" stroke="#aaaaaa" stroke-width="1" stroke-dasharray="2,2" fill="none"/>
<path d="M43,522.5H1144M43,550.5H1144M43,577.5H1144" stroke="#e0e0e0" stroke-width="1" fill="none"/>
<path d="M43,522.5H1144M43,550.5H1144M43,577.5H1144" stroke="#808080" stroke-width="1" stroke-dasharray="2,2" fill="none"/>
<rect x="93" y="495" width="3" height="109" fill="#a9d18e" fill-opacity="0.55"/>
<rect x="750" y="495" width="3" height="109" fill="#f6c3c3"/>
<path d="M94.5,522.5H750.4" stroke="#1f3a93" stroke-width="1.2"/>
<path d="M106.4,582.2L146.9,587.0L199.4,592.5L251.9,595.3L304.4,597.5L349.8,599.3L415.5,600.2L504.1,600.2L506.3,599.2L567.6,599.0L600.0,598.3L644.0,596.5L694.0,593.5L743.0,590.3" stroke="#c0392b" stroke-width="1.1" fill="none"/>
<path d="M106.4,525.8L109.4,526.5L112.4,524.3L115.4,524.4L118.4,525.8L121.4,524.7L124.4,524.8L127.4,526.2L130.4,525.1L133.4,527.2L136.4,525.3L139.4,525.5L142.4,526.8L145.4,527.7L148.4,527.0L151.4,525.4L154.4,524.8L157.4,524.2L160.4,524.2L163.4,524.2L166.4,526.2L169.4,524.8L172.4,524.2L175.4,524.2L178.4,524.2L181.4,524.2L184.4,524.2L187.4,524.2L190.4,524.2L193.4,525.4L196.4,524.8L199.4,524.8L202.4,524.8L205.4,525.4L208.4,524.2L211.4,524.2L214.4,524.2L217.4,524.2L220.4,524.2L223.4,525.4L226.4,524.2L229.4,524.2L232.4,524.8L235.4,524.2L238.4,524.8L241.4,526.2L244.4,524.8L247.4,524.2L250.4,526.2L253.4,524.8L256.4,524.2L259.4,524.2L262.4,524.2L265.4,524.2L268.4,524.2L271.4,524.2L274.4,526.2L277.4,524.2L280.4,524.2L283.4,524.2L286.4,524.2L289.4,524.2L292.4,524.2L295.4,525.4L298.4,525.4L301.4,524.2L304.4,524.2L307.4,524.2L310.4,524.8L313.4,524.2L316.4,524.2L319.4,524.2L322.4,524.8L325.4,524.8L328.4,524.2L331.4,524.2L334.4,524.2L337.4,524.8L340.4,524.2L343.4,526.2L346.4,524.2L349.4,526.2L352.4,524.2L355.4,524.2L358.4,524.2L361.4,524.2L364.4,524.2L367.4,524.2L370.4,526.2L373.4,524.2L376.4,524.2L379.4,524.8L382.4,524.2L385.4,524.2L388.4,524.2L391.4,524.2L394.4,524.2L397.4,524.2L400.4,524.2L403.4,524.2L406.4,524.8L409.4,524.8L412.4,525.4L415.4,526.2L418.4,524.8L421.4,526.2L424.4,524.2L427.4,526.2L430.4,524.2L433.4,524.8L436.4,524.2L439.4,524.2L442.4,524.8L445.4,524.2L448.4,526.2L451.4,524.2L454.4,526.2L457.4,524.2L460.4,524.2L463.4,524.8L466.4,524.2L469.4,524.2L472.4,524.8L475.4,524.2L478.4,524.2L481.4,524.2L484.4,525.4L487.4,524.2L490.4,524.2L493.4,524.2L496.4,525.4L499.4,524.2L502.4,524.2L505.4,524.1L508.4,524.1L511.4,524.0L514.4,524.0L517.4,524.5L520.4,525.1L523.4,525.7L526.4,526.3L529.4,526.9L532.4,527.6L535.4,528.4L538.4,529.2L541.4,530.0L544.4,530.8L547.4,531.8L550.4,532.7L553.4,532.1L556.4,530.0L559.4,524.2L562.4,524.0L565.4,523.9L568.4,523.7L571.4,523.6L574.4,523.5L577.4,523.3L580.4,523.2L583.4,523.2L586.4,523.2L589.4,523.2L592.4,523.2L595.4,523.1L598.4,523.1L601.4,523.1L604.4,523.1L607.4,523.1L610.4,523.1L613.4,523.1L616.4,523.1L619.4,523.1L622.4,523.1L625.4,523.0L628.4,523.0L631.4,523.0L634.4,523.0L637.4,523.0L640.4,523.0L643.4,523.2L646.4,523.5L649.4,523.7L652.4,523.9L655.4,524.4L658.4,525.1L661.4,525.9L664.4,526.6L667.4,527.4L670.4,528.1L673.4,528.9L676.4,529.6L679.4,530.4L682.4,531.1L685.4,531.9L688.4,532.6L691.4,533.4L694.4,534.1L697.4,534.9L700.4,535.6L703.4,536.4L706.4,537.1L709.4,537.9L712.4,538.6L715.4,539.5L718.4,540.5L721.4,541.5L724.4,542.5L727.4,543.5L730.4,544.5L733.4,545.7L736.4,546.9L739.4,548.1L742.4,549.3" stroke="#3030d0" stroke-width="0.8" stroke-dasharray="1,2" fill="none"/>
<path d="M105,524h2v2h-2zM108,524h2v2h-2zM111,522h2v2h-2zM114,522h2v2h-2zM117,524h2v2h-2zM120,523h2v2h-2zM123,523h2v2h-2zM126,524h2v2h-2zM129,523h2v2h-2zM132,525h2v2h-2zM135,523h2v2h-2zM138,523h2v2h-2zM141,525h2v2h-2zM144,526h2v2h-2zM147,525h2v2h-2zM150,523h2v2h-2zM153,523h2v2h-2zM156,522h2v2h-2zM159,522h2v2h-2zM162,522h2v2h-2zM165,524h2v2h-2zM168,523h2v2h-2zM171,522h2v2h-2zM174,522h2v2h-2zM177,522h2v2h-2zM180,522h2v2h-2zM183,522h2v2h-2zM186,522h2v2h-2zM189,522h2v2h-2zM192,523h2v2h-2zM195,523h2v2h-2zM198,523h2v2h-2zM201,523h2v2h-2zM204,523h2v2h-2zM207,522h2v2h-2zM210,522h2v2h-2zM213,522h2v2h-2zM216,522h2v2h-2zM219,522h2v2h-2zM222,523h2v2h-2zM225,522h2v2h-2zM228,522h2v2h-2zM231,523h2v2h-2zM234,522h2v2h-2zM237,523h2v2h-2zM240,524h2v2h-2zM243,523h2v2h-2zM246,522h2v2h-2zM249,524h2v2h-2zM252,523h2v2h-2zM255,522h2v2h-2zM258,522h2v2h-2zM261,522h2v2h-2zM264,522h2v2h-2zM267,522h2v2h-2zM270,522h2v2h-2zM273,524h2v2h-2zM276,522h2v2h-2zM279,522h2v2h-2zM282,522h2v2h-2zM285,522h2v2h-2zM288,522h2v2h-2zM291,522h2v2h-2zM294,523h2v2h-2zM297,523h2v2h-2zM300,522h2v2h-2zM303,522h2v2h-2zM306,522h2v2h-2zM309,523h2v2h-2zM312,522h2v2h-2zM315,522h2v2h-2zM318,522h2v2h-2zM321,523h2v2h-2zM324,523h2v2h-2zM327,522h2v2h-2zM330,522h2v2h-2zM333,522h2v2h-2zM336,523h2v2h-2zM339,522h2v2h-2zM342,524h2v2h-2zM345,522h2v2h-2zM348,524h2v2h-2zM351,522h2v2h-2zM354,522h2v2h-2zM357,522h2v2h-2zM360,522h2v2h-2zM363,522h2v2h-2zM366,522h2v2h-2zM369,524h2v2h-2zM372,522h2v2h-2zM375,522h2v2h-2zM378,523h2v2h-2zM381,522h2v2h-2zM384,522h2v2h-2zM387,522h2v2h-2zM390,522h2v2h-2zM393,522h2v2h-2zM396,522h2v2h-2zM399,522h2v2h-2zM402,522h2v2h-2zM405,523h2v2h-2zM408,523h2v2h-2zM411,523h2v2h-2zM414,524h2v2h-2zM417,523h2v2h-2zM420,524h2v2h-2zM423,522h2v2h-2zM426,524h2v2h-2zM429,522h2v2h-2zM432,523h2v2h-2zM435,522h2v2h-2zM438,522h2v2h-2zM441,523h2v2h-2zM444,522h2v2h-2zM447,524h2v2h-2zM450,522h2v2h-2zM453,524h2v2h-2zM456,522h2v2h-2zM459,522h2v2h-2zM462,523h2v2h-2zM465,522h2v2h-2zM468,522h2v2h-2zM471,523h2v2h-2zM474,522h2v2h-2zM477,522h2v2h-2zM480,522h2v2h-2zM483,523h2v2h-2zM486,522h2v2h-2zM489,522h2v2h-2zM492,522h2v2h-2zM495,523h2v2h-2zM498,522h2v2h-2zM501,522h2v2h-2zM504,522h2v2h-2zM507,522h2v2h-2zM510,522h2v2h-2zM513,522h2v2h-2zM516,522h2v2h-2zM519,523h2v2h-2zM522,524h2v2h-2zM525,524h2v2h-2zM528,525h2v2h-2zM531,526h2v2h-2zM534,526h2v2h-2zM537,527h2v2h-2zM540,528h2v2h-2zM543,529h2v2h-2zM546,530h2v2h-2zM549,531h2v2h-2zM552,530h2v2h-2zM555,528h2v2h-2zM558,522h2v2h-2zM561,522h2v2h-2zM564,522h2v2h-2zM567,522h2v2h-2zM570,522h2v2h-2zM573,521h2v2h-2zM576,521h2v2h-2zM579,521h2v2h-2zM582,521h2v2h-2zM585,521h2v2h-2zM588,521h2v2h-2zM591,521h2v2h-2zM594,521h2v2h-2zM597,521h2v2h-2zM600,521h2v2h-2zM603,521h2v2h-2zM606,521h2v2h-2zM609,521h2v2h-2zM612,521h2v2h-2zM615,521h2v2h-2zM618,521h2v2h-2zM621,521h2v2h-2zM624,521h2v2h-2zM627,521h2v2h-2zM630,521h2v2h-2zM633,521h2v2h-2zM636,521h2v2h-2zM639,521h2v2h-2zM642,521h2v2h-2zM645,521h2v2h-2zM648,522h2v2h-2zM651,522h2v2h-2zM654,522h2v2h-2zM657,523h2v2h-2zM660,524h2v2h-2zM663,525h2v2h-2zM666,525h2v2h-2zM669,526h2v2h-2zM672,527h2v2h-2zM675,528h2v2h-2zM678,528h2v2h-2zM681,529h2v2h-2zM684,530h2v2h-2zM687,531h2v2h-2zM690,531h2v2h-2zM693,532h2v2h-2zM696,533h2v2h-2zM699,534h2v2h-2zM702,534h2v2h-2zM705,535h2v2h-2zM708,536h2v2h-2zM711,537h2v2h-2zM714,537h2v2h-2zM717,538h2v2h-2zM720,539h2v2h-2zM723,540h2v2h-2zM726,541h2v2h-2zM729,543h2v2h-2zM732,544h2v2h-2zM735,545h2v2h-2zM738,546h2v2h-2zM741,547h2v2h-2z" fill="#0a0ab4" shape-rendering="crispEdges"/>
<rect x="349.5" y="543.5" width="127" height="38" fill="#fff" stroke="#000" stroke-width="1"/>
<path d="M362,552.5H392" stroke="#c0392b" stroke-width="1.2"/>
<path d="M362,571.5H392" stroke="#1a1aa8" stroke-width="1" stroke-dasharray="3,2"/>
<circle cx="377" cy="571.5" r="1.3" fill="#1a1aa8"/>
<text x="395.60" y="556.90" font-size="12.2" text-anchor="start" fill="#000" textLength="56.60" lengthAdjust="spacingAndGlyphs" >AIR MASS</text>
<text x="395.60" y="575.40" font-size="12.2" text-anchor="start" fill="#000" textLength="69.00" lengthAdjust="spacingAndGlyphs" >Extra Losses</text>
<path d="M42,495.5H1145M42.5,495V605M42,604.5H1145M1144.5,495V605M38,495.5H42M1144,495.5H1149M38,522.5H42M1144,522.5H1149M38,550.5H42M1144,550.5H1149M38,577.5H42M1144,577.5H1149M38,604.5H42M1144,604.5H1149M42.5,604V609M94.5,604V609M147.5,604V609M199.5,604V609M252.5,604V609M304.5,604V609M357.5,604V609M409.5,604V609M462.5,604V609M514.5,604V609M567.5,604V609M619.5,604V609M672.5,604V609M724.5,604V609M777.5,604V609M829.5,604V609M882.5,604V609M934.5,604V609M987.5,604V609M1039.5,604V609M1092.5,604V609M1144.5,604V609" stroke="#000" stroke-width="1" fill="none"/>
<path d="M42,495.5H1145" stroke="#808080" stroke-width="1"/>
<text x="32.50" y="500.00" font-size="13.6" text-anchor="end" fill="#000" >5</text>
<text x="32.50" y="527.00" font-size="13.6" text-anchor="end" fill="#000" >4</text>
<text x="32.50" y="555.00" font-size="13.6" text-anchor="end" fill="#000" >3</text>
<text x="32.50" y="582.00" font-size="13.6" text-anchor="end" fill="#000" >2</text>
<text x="32.50" y="609.00" font-size="13.6" text-anchor="end" fill="#000" >1</text>
<text x="1173.00" y="499.50" font-size="12.8" text-anchor="end" fill="#000" >-1.0</text>
<text x="1173.00" y="526.50" font-size="12.8" text-anchor="end" fill="#000" >0.0</text>
<text x="1173.00" y="554.50" font-size="12.8" text-anchor="end" fill="#000" >1.0</text>
<text x="1173.00" y="581.50" font-size="12.8" text-anchor="end" fill="#000" >2.0</text>
<text x="1173.00" y="608.50" font-size="12.8" text-anchor="end" fill="#000" >3.0</text>
<text x="42.50" y="623.80" font-size="13.6" text-anchor="middle" fill="#000" >2.0</text>
<text x="94.50" y="623.80" font-size="13.6" text-anchor="middle" fill="#000" >2.5</text>
<text x="147.50" y="623.80" font-size="13.6" text-anchor="middle" fill="#000" >3.0</text>
<text x="199.50" y="623.80" font-size="13.6" text-anchor="middle" fill="#000" >3.5</text>
<text x="252.50" y="623.80" font-size="13.6" text-anchor="middle" fill="#000" >4.0</text>
<text x="304.50" y="623.80" font-size="13.6" text-anchor="middle" fill="#000" >4.5</text>
<text x="357.50" y="623.80" font-size="13.6" text-anchor="middle" fill="#000" >5.0</text>
<text x="409.50" y="623.80" font-size="13.6" text-anchor="middle" fill="#000" >5.5</text>
<text x="462.50" y="623.80" font-size="13.6" text-anchor="middle" fill="#000" >6.0</text>
<text x="514.50" y="623.80" font-size="13.6" text-anchor="middle" fill="#000" >6.5</text>
<text x="567.50" y="623.80" font-size="13.6" text-anchor="middle" fill="#000" >7.0</text>
<text x="619.50" y="623.80" font-size="13.6" text-anchor="middle" fill="#000" >7.5</text>
<text x="672.50" y="623.80" font-size="13.6" text-anchor="middle" fill="#000" >8.0</text>
<text x="724.50" y="623.80" font-size="13.6" text-anchor="middle" fill="#000" >8.5</text>
<text x="777.50" y="623.80" font-size="13.6" text-anchor="middle" fill="#000" >9.0</text>
<text x="829.50" y="623.80" font-size="13.6" text-anchor="middle" fill="#000" >9.5</text>
<text x="882.50" y="623.80" font-size="13.6" text-anchor="middle" fill="#000" >10.0</text>
<text x="934.50" y="623.80" font-size="13.6" text-anchor="middle" fill="#000" >10.5</text>
<text x="987.50" y="623.80" font-size="13.6" text-anchor="middle" fill="#000" >11.0</text>
<text x="1039.50" y="623.80" font-size="13.6" text-anchor="middle" fill="#000" >11.5</text>
<text x="1092.50" y="623.80" font-size="13.6" text-anchor="middle" fill="#000" >12.0</text>
<text x="1144.50" y="623.80" font-size="13.6" text-anchor="middle" fill="#000" >12.5</text>
<text x="0" y="0" font-size="13" transform="translate(15,557.3) rotate(-90)" text-anchor="middle" textLength="62.7" lengthAdjust="spacingAndGlyphs">AIR MASS</text>
</svg></body></html>
